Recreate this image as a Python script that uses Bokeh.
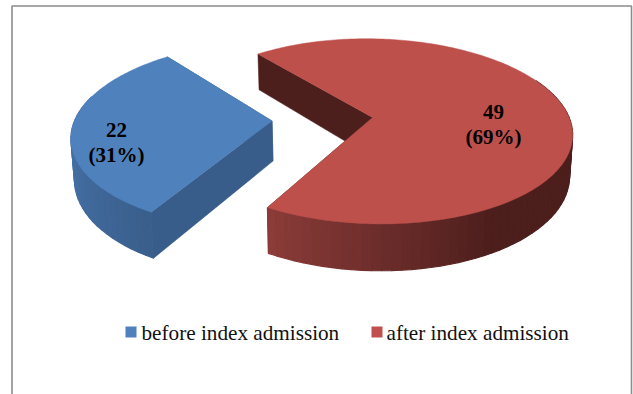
import math
from bokeh.core.properties import value
from bokeh.embed import file_html
from bokeh.plotting import figure
from bokeh.resources import INLINE

# Admission counts shown on the pie
categories = ["before index admission", "after index admission"]
counts = [22, 49]
top_colors = ["#4F81BD", "#BE504C"]
swatch_colors = ["#4F81BD", "#C0504D"]
cut_wall_colors = ["#385D8A", "#4C1E1C"]
rim_light = ["#4A7AB3", "#8C3C39"]
rim_dark = ["#3A5F8C", "#4C1E1C"]
label_anchors = [(116, 129), (493, 111)]

# Perspective camera for the tilted pie
VANISH_X, CENTER_Y = 322.0, 118.7
SCALE_X, SCALE_Y, TILT = 197.0, 91.0, 0.15
EXPLODE = 0.256
DEPTH = 40.0
BASE_SHRINK, BASE_PIVOT = 0.987, 343.0


def project(u, v):
    d = 1 + TILT * v
    return VANISH_X + SCALE_X * u / d, CENTER_Y - SCALE_Y * v / d


def project_base(u, v):
    x, y = project(u, v)
    d = 1 + TILT * v
    return BASE_PIVOT + BASE_SHRINK * (x - BASE_PIVOT), y + DEPTH / d


def lerp_color(a, b, t):
    ca = [int(a[i:i + 2], 16) for i in (1, 3, 5)]
    cb = [int(b[i:i + 2], 16) for i in (1, 3, 5)]
    return "#%02x%02x%02x" % tuple(round(p + (q - p) * t) for p, q in zip(ca, cb))


total = sum(counts)
blue_sweep = 360.0 * counts[0] / total
blue_start = 128.5
spans = [(blue_start, blue_start + blue_sweep),
         (blue_start + blue_sweep, blue_start + 360.0)]
# Angular stretch of each slice's rim over which the shading runs light to dark
shade_ranges = [(171.0, 240.0), (240.0, 300.0)]

p = figure(width=633, height=394, x_range=(0, 633), y_range=(394, 0),
           x_axis_type=None, y_axis_type=None, toolbar_location=None,
           output_backend="svg", min_border=0, outline_line_color=None,
           background_fill_color="white", border_fill_color="white")
p.grid.visible = False

# Chart frame: open at the bottom
p.line([11.5, 11.5, 631, 631], [394, 5.5, 5.5, 394], line_color="#8C8C8C", line_width=1.6)

for i, (a0, a1) in enumerate(spans):
    mid = math.radians((a0 + a1) / 2)
    ox, oy = EXPLODE * math.cos(mid), EXPLODE * math.sin(mid)

    def point(deg):
        r = math.radians(deg)
        return ox + math.cos(r), oy + math.sin(r)

    # Straight cut walls that run from the apex to each end of the arc
    for end in (a0, a1):
        tx0, ty0 = project(ox, oy)
        tx1, ty1 = project(*point(end))
        bx0, by0 = project_base(ox, oy)
        bx1, by1 = project_base(*point(end))
        p.patch([tx0, tx1, bx1, bx0], [ty0, ty1, by1, by0],
                fill_color=cut_wall_colors[i], line_color=cut_wall_colors[i], line_width=0.5)

    # Outer rim, shaded strip by strip along the visible front of the arc
    shade_from, shade_to = shade_ranges[i]
    steps = int((a1 - a0) / 2.5)
    angles = [a0 + (a1 - a0) * k / steps for k in range(steps + 1)]
    for k in range(steps):
        s, e = angles[k], angles[k + 1]
        c = (s + e) / 2
        if i == 0 and c < 165:
            continue
        if i == 1 and c > 385:
            continue
        t = min(1.0, max(0.0, (c - shade_from) / (shade_to - shade_from)))
        col = lerp_color(rim_light[i], rim_dark[i], t)
        x0, y0 = project(*point(s))
        x1, y1 = project(*point(e))
        x2, y2 = project_base(*point(e))
        x3, y3 = project_base(*point(s))
        p.patch([x0, x1, x2, x3], [y0, y1, y2, y3], fill_color=col, line_color=col, line_width=1.2)

for i, (a0, a1) in enumerate(spans):
    mid = math.radians((a0 + a1) / 2)
    ox, oy = EXPLODE * math.cos(mid), EXPLODE * math.sin(mid)
    apex = project(ox, oy)
    steps = int(a1 - a0)
    rim = [project(ox + math.cos(math.radians(a0 + (a1 - a0) * k / steps)),
                   oy + math.sin(math.radians(a0 + (a1 - a0) * k / steps)))
           for k in range(steps + 1)]
    xs = [apex[0]] + [q[0] for q in rim]
    ys = [apex[1]] + [q[1] for q in rim]
    p.patch(xs, ys, fill_color=top_colors[i], line_color=top_colors[i], line_width=0.5)

# Count and share printed on each slice
for n, (ax, ay) in zip(counts, label_anchors):
    share = round(100 * n / total)
    p.text([ax], [ay], text=[str(n)], text_font=value("Liberation Serif"), text_font_style="bold",
           text_font_size="21px", text_align="center", text_baseline="middle", text_color="black")
    p.text([ax], [ay + 25.5], text=[f"({share}%)"], text_font=value("Liberation Serif"),
           text_font_style="bold", text_font_size="21px", text_align="center",
           text_baseline="middle", text_color="black")

# Legend row
swatch_x = [130.5, 376.5]
text_x = [141, 386]
for name, col, sx, tx in zip(categories, swatch_colors, swatch_x, text_x):
    p.rect([sx], [331.5], width=11, height=11, fill_color=col, line_color=None)
    p.text([tx], [332], text=[name], text_font=value("Liberation Serif"), text_font_size="21.2px",
           text_align="left", text_baseline="middle", text_color="#111111")

open("out.html", "w").write(file_html(p, INLINE))
